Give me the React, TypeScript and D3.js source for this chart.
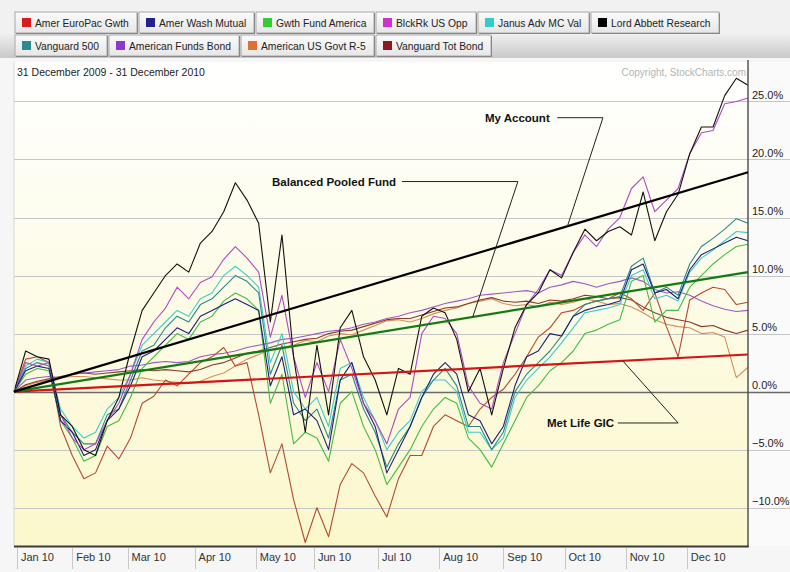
import { useEffect, useRef } from 'react';
import * as d3 from 'd3';

// sessions since 31 Dec 2009, one reading every 4 sessions
const sessions = d3.range(0, 253, 4);

const monthLabels = ['Jan 10', 'Feb 10', 'Mar 10', 'Apr 10', 'May 10', 'Jun 10', 'Jul 10', 'Aug 10', 'Sep 10', 'Oct 10', 'Nov 10', 'Dec 10'];
const monthStarts = [1, 20, 39, 62, 83, 103, 125, 146, 168, 189, 210, 231];
const yTicks = [-10, -5, 0, 5, 10, 15, 20, 25];

// % change
const euroPac = [0, 2.8, 3.0, 2.5, -3.0, -5.5, -7.5, -7.0, -4.7, -5.8, -4.0, -1.0, -0.4, 1.0, 0.5, 1.5, 2.5, 3.0, 3.8, 2.2, 2.5, -2.0, -7.0, -4.5, -9.3, -13.0, -10.0, -12.5, -8.0, -6.2, -7.0, -9.0, -10.8, -7.5, -5.5, -5.5, -3.0, -2.0, -2.5, -3.0, -1.5, -0.5, 0.2, 1.5, 3.0, 4.7, 5.5, 6.8, 7.0, 7.5, 7.8, 8.0, 8.5, 8.0, 7.0, 8.5, 5.6, 3.0, 7.9, 8.5, 9.0, 8.8, 7.5, 7.7];
const amerWash = [0, 1.8, 2.2, 2.0, -2.5, -3.5, -5.5, -5.0, -2.5, -1.5, 0.5, 3.0, 3.5, 4.5, 5.5, 5.0, 6.5, 7.0, 7.5, 8.0, 7.5, 7.0, 0.5, 3.0, -2.0, -1.5, -2.5, -5.0, 1.0, 2.5, -1.0, -3.0, -7.0, -5.0, -3.0, -0.5, 1.5, 2.5, 1.5, -2.0, -2.5, -4.5, -3.0, 0.5, 3.0, 3.5, 5.0, 4.8, 6.5, 7.0, 7.3, 7.5, 7.8, 10.5, 11.0, 8.5, 8.8, 8.0, 10.5, 11.8, 12.3, 12.8, 13.3, 13.0];
const gwthFund = [0, 1.5, 2.0, 1.8, -2.5, -4.0, -6.0, -5.5, -3.0, -2.5, -0.5, 2.0, 3.0, 4.0, 5.0, 4.5, 6.0, 6.5, 7.8, 8.5, 8.0, 7.0, -1.0, 1.5, -4.5, -3.5, -4.0, -6.0, -1.0, 0.0, -3.0, -5.0, -8.0, -6.5, -5.0, -3.0, -1.5, -0.5, -1.0, -4.0, -5.0, -6.5, -4.5, -2.5, -0.5, 0.5, 1.8, 2.5, 3.5, 5.0, 5.3, 5.8, 6.2, 9.5, 10.0, 6.0, 7.0, 7.0, 9.0, 10.0, 11.0, 11.8, 12.5, 12.7];
const blckRk = [0, 2.5, 2.2, 2.5, -2.0, -4.0, -5.0, -4.5, -2.5, -1.0, 1.5, 4.5, 6.0, 7.2, 9.0, 8.0, 9.4, 9.9, 11.4, 12.5, 11.5, 10.3, 4.7, 8.3, 3.0, -0.5, 2.5, 0.0, 4.5, 2.0, -1.0, -2.5, -4.5, -1.5, -0.5, 5.0, 6.5, 6.3, 5.0, 0.5, -1.0, -1.5, 2.5, 5.0, 7.5, 8.8, 10.5, 10.0, 12.0, 13.5, 12.5, 14.0, 15.0, 17.5, 18.5, 15.5, 16.5, 17.5, 20.5, 22.3, 22.5, 24.8, 25.0, 25.3];
const janus = [0, 2.2, 2.8, 2.5, -1.5, -3.0, -4.0, -3.5, -1.5, -0.5, 1.5, 4.0, 5.0, 6.0, 7.0, 6.5, 8.0, 8.5, 10.0, 10.8, 10.0, 9.0, 2.5, 5.0, 0.0, -1.5, -0.5, -3.0, 2.0, 2.5, -0.5, -2.5, -5.0, -3.5, -2.5, 0.0, 1.0, 1.0, 0.0, -3.5, -3.5, -5.0, -4.0, -0.5, 1.0, 2.0, 3.0, 4.2, 5.5, 6.8, 7.0, 7.2, 7.5, 10.0, 10.5, 8.0, 8.3, 7.8, 10.3, 11.5, 12.2, 13.0, 13.8, 13.7];
const lordAbbett = [0, 3.5, 3.0, 2.8, -2.0, -3.0, -5.0, -5.5, -2.5, -0.5, 3.5, 7.0, 8.5, 10.0, 11.0, 10.3, 12.8, 13.8, 15.5, 18.0, 16.5, 14.5, 6.0, 13.5, 3.0, -3.5, 4.0, -2.0, 5.5, 7.0, 3.0, 1.0, -2.0, 2.0, 1.5, 6.5, 7.2, 6.8, 4.5, 0.0, 2.0, -2.0, 2.0, 5.5, 7.5, 8.5, 10.5, 9.8, 12.0, 14.0, 13.0, 13.8, 14.2, 13.5, 17.2, 13.0, 15.5, 17.0, 20.5, 22.8, 22.8, 25.5, 27.0, 26.4];
const vanguard500 = [0, 2.0, 2.5, 2.2, -2.0, -3.5, -4.5, -4.5, -2.0, -1.5, 1.0, 3.5, 4.0, 5.5, 6.5, 6.0, 7.5, 8.0, 9.0, 10.0, 9.5, 8.5, 1.5, 4.0, -1.0, -2.5, -1.5, -4.0, 1.0, 1.5, -1.5, -3.5, -6.5, -4.5, -3.0, -0.5, 1.0, 2.0, 0.5, -3.0, -3.0, -5.0, -3.5, 0.0, 1.5, 2.5, 3.5, 4.8, 6.5, 7.5, 7.8, 8.0, 8.2, 10.8, 11.5, 8.5, 9.0, 8.3, 11.0, 12.5, 13.2, 14.0, 14.9, 14.5];
const amerFundsBond = [0, 1.0, 1.2, 1.3, 1.2, 1.5, 1.6, 1.7, 1.8, 1.9, 2.2, 2.3, 2.5, 2.6, 2.5, 2.6, 3.0, 3.2, 3.3, 3.5, 3.8, 4.0, 4.2, 4.5, 4.6, 4.8, 5.0, 5.2, 5.3, 5.5, 5.8, 6.0, 6.3, 6.5, 6.8, 7.0, 7.3, 7.6, 7.8, 8.0, 8.3, 8.4, 8.5, 8.6, 8.7, 8.5, 9.0, 9.2, 9.5, 9.3, 9.0, 9.3, 9.5, 9.8, 9.5, 8.8, 8.5, 8.6, 8.3, 7.8, 7.4, 7.1, 6.9, 7.0];
const amerUsGovt = [0, 0.5, 0.8, 1.0, 1.2, 1.3, 1.3, 1.2, 1.1, 1.0, 1.0, 1.2, 1.0, 0.9, 0.8, 0.7, 0.9, 1.3, 1.6, 2.2, 2.8, 3.2, 3.6, 3.8, 4.0, 4.4, 4.3, 4.8, 5.0, 4.9, 5.3, 5.7, 6.1, 6.2, 6.0, 6.3, 6.7, 7.0, 7.2, 7.6, 7.8, 8.0, 7.6, 7.4, 7.5, 7.3, 7.7, 7.5, 7.7, 8.0, 7.8, 7.5, 7.6, 7.3, 6.8, 6.2, 5.8, 5.6, 5.5, 5.0, 5.1, 4.7, 1.2, 2.1];
const vanguardTotBond = [0, 0.6, 0.9, 1.1, 1.3, 1.5, 1.6, 1.5, 1.6, 1.7, 1.8, 1.9, 1.8, 1.9, 1.8, 1.7, 1.9, 2.3, 2.5, 2.9, 3.3, 3.5, 3.8, 4.1, 4.3, 4.5, 4.6, 5.0, 5.2, 5.3, 5.6, 5.9, 6.2, 6.3, 6.3, 6.6, 6.9, 7.2, 7.3, 7.6, 7.9, 8.1, 7.8, 7.7, 7.8, 7.6, 7.9, 7.8, 8.0, 8.3, 8.2, 8.0, 8.1, 7.9, 7.3, 6.8, 6.4, 6.2, 6.0, 5.6, 5.7, 5.3, 5.0, 5.3];

// hand-drawn straight lines (start and end of year)
const lineDays = [0, 252];
const myAccount = [0, 18.9];
const balancedPooledFund = [0, 10.3];
const metLifeGic = [0, 3.2];

type Series = { name: string; swatch: string; stroke: string; values: number[] };

const series: Series[] = [
  { name: 'Amer EuroPac Gwth', swatch: '#d81c1c', stroke: '#b44a30', values: euroPac },
  { name: 'Amer Wash Mutual', swatch: '#22228c', stroke: '#1e1e78', values: amerWash },
  { name: 'Gwth Fund America', swatch: '#33cc33', stroke: '#44bb44', values: gwthFund },
  { name: 'BlckRk US Opp', swatch: '#cc33cc', stroke: '#b048c4', values: blckRk },
  { name: 'Janus Adv MC Val', swatch: '#33cccc', stroke: '#3ccccc', values: janus },
  { name: 'Lord Abbett Research', swatch: '#000000', stroke: '#111111', values: lordAbbett },
  { name: 'Vanguard 500', swatch: '#2a8c8c', stroke: '#2a8888', values: vanguard500 },
  { name: 'American Funds Bond', swatch: '#8a3acc', stroke: '#9a5ac8', values: amerFundsBond },
  { name: 'American US Govt R-5', swatch: '#e07033', stroke: '#d48e58', values: amerUsGovt },
  { name: 'Vanguard Tot Bond', swatch: '#8b1a1a', stroke: '#8a3a2a', values: vanguardTotBond },
];

const drawOrder = ['American US Govt R-5', 'Vanguard Tot Bond', 'American Funds Bond', 'Amer EuroPac Gwth', 'Gwth Fund America', 'Janus Adv MC Val', 'Vanguard 500', 'Amer Wash Mutual', 'BlckRk US Opp', 'Lord Abbett Research'];

const FONT = '"Liberation Sans", Arial, sans-serif';

export default function App() {
  const ref = useRef<SVGSVGElement>(null);

  useEffect(() => {
    if (!ref.current) return;
    const W = 790, H = 572;
    const plot = { left: 14, right: 748, top: 62, bottom: 546 };

    const x = d3.scaleLinear().domain([0, 252]).range([plot.left, plot.right]);
    const y = d3.scaleLinear().domain([-13.3, 28.4]).range([plot.bottom, plot.top]);

    const svg = d3.select(ref.current);
    svg.selectAll('*').remove();
    svg.attr('width', W).attr('height', H).attr('viewBox', `0 0 ${W} ${H}`);

    const defs = svg.append('defs');
    const bg = defs.append('linearGradient').attr('id', 'plotbg').attr('x1', 0).attr('y1', 0).attr('x2', 0).attr('y2', 1);
    bg.append('stop').attr('offset', '0%').attr('stop-color', '#ffffff');
    bg.append('stop').attr('offset', '100%').attr('stop-color', '#fbf8cc');
    const band = defs.append('linearGradient').attr('id', 'band').attr('x1', 0).attr('y1', 0).attr('x2', 0).attr('y2', 1);
    band.append('stop').attr('offset', '0%').attr('stop-color', '#efefef');
    band.append('stop').attr('offset', '100%').attr('stop-color', '#c9c9c9');
    const btn = defs.append('linearGradient').attr('id', 'btn').attr('x1', 0).attr('y1', 0).attr('x2', 0).attr('y2', 1);
    btn.append('stop').attr('offset', '0%').attr('stop-color', '#fbfbfb');
    btn.append('stop').attr('offset', '100%').attr('stop-color', '#e6e6e6');

    // page + legend area
    svg.append('rect').attr('width', W).attr('height', H).attr('fill', '#f6f6f6');
    svg.append('rect').attr('width', W).attr('height', 34).attr('fill', '#f1f1f1');
    svg.append('rect').attr('y', 34).attr('width', W).attr('height', 24).attr('fill', 'url(#band)');
    svg.append('rect').attr('x', plot.left).attr('y', plot.top).attr('width', plot.right - plot.left).attr('height', plot.bottom - plot.top).attr('fill', 'url(#plotbg)');
    svg.append('rect').attr('x', plot.right).attr('y', plot.top).attr('width', W - plot.right).attr('height', plot.bottom - plot.top).attr('fill', '#fafafa');

    // legend buttons
    const rows = [series.slice(0, 6), series.slice(6)];
    rows.forEach((row, ri) => {
      let bx = 15;
      const by = 12 + ri * 23;
      row.forEach(s => {
        const g = svg.append('g');
        const rect = g.append('rect').attr('x', bx).attr('y', by).attr('height', 21).attr('fill', 'url(#btn)')
          .attr('stroke', '#a8a8a8').attr('stroke-width', 1);
        g.append('rect').attr('x', bx + 7).attr('y', by + 6).attr('width', 9).attr('height', 9).attr('fill', s.swatch);
        const t = g.append('text').attr('x', bx + 20).attr('y', by + 14.5).attr('font-family', FONT).attr('font-size', 10.3)
          .attr('fill', '#222').text(s.name);
        const tw = (t.node() as SVGTextElement).getComputedTextLength();
        const w = Math.round(20 + tw + 8);
        rect.attr('width', w);
        g.append('line').attr('x1', bx + 1).attr('x2', bx + w).attr('y1', by + 21.5).attr('y2', by + 21.5).attr('stroke', '#888');
        g.append('line').attr('x1', bx + w + 0.5).attr('x2', bx + w + 0.5).attr('y1', by + 1).attr('y2', by + 22).attr('stroke', '#888');
        bx += w + 2;
      });
    });

    // grid + y labels
    svg.append('g').selectAll('line').data(yTicks).enter().append('line')
      .attr('x1', plot.left).attr('x2', W)
      .attr('y1', d => Math.round(y(d)) + 0.5).attr('y2', d => Math.round(y(d)) + 0.5)
      .attr('stroke', d => d === 0 ? '#6a6a6a' : '#c6c6c6')
      .attr('stroke-width', d => d === 0 ? 1.6 : 1.2);
    svg.append('g').selectAll('text').data(yTicks).enter().append('text')
      .attr('x', 752).attr('y', d => y(d) - 2.5)
      .attr('font-family', FONT).attr('font-size', 11).attr('fill', '#222')
      .text(d => d3.format('.1f')(d) + '%');

    // header texts
    svg.append('text').attr('x', 17).attr('y', 76).attr('font-family', FONT).attr('font-size', 10.5).attr('fill', '#222')
      .text('31 December 2009 - 31 December 2010');
    svg.append('text').attr('x', 746).attr('y', 76).attr('text-anchor', 'end').attr('font-family', FONT).attr('font-size', 10)
      .attr('fill', '#b4b4b4').text('Copyright, StockCharts.com');

    // fund lines
    const line = d3.line<number>().x((_, i) => x(sessions[i])).y(d => y(d));
    const lines = svg.append('g').attr('fill', 'none');
    drawOrder.forEach(name => {
      const s = series.find(d => d.name === name)!;
      lines.append('path').attr('d', line(s.values)!).attr('stroke', s.stroke).attr('stroke-width', 1.1)
        .attr('stroke-linejoin', 'round');
    });

    // axes frame
    svg.append('line').attr('x1', plot.left).attr('x2', plot.left).attr('y1', plot.top).attr('y2', plot.bottom)
      .attr('stroke', '#d6d6d6');
    svg.append('line').attr('x1', plot.right).attr('x2', plot.right).attr('y1', plot.top - 2).attr('y2', plot.bottom + 1)
      .attr('stroke', '#555').attr('stroke-width', 1.5);
    svg.append('line').attr('x1', plot.left).attr('x2', plot.right + 0.75).attr('y1', plot.bottom + 0.5).attr('y2', plot.bottom + 0.5)
      .attr('stroke', '#3a3a3a').attr('stroke-width', 2);

    // x axis separators + labels
    const xa = svg.append('g');
    xa.selectAll('line').data(monthStarts).enter().append('line')
      .attr('x1', d => Math.round(x(d)) + 0.5).attr('x2', d => Math.round(x(d)) + 0.5)
      .attr('y1', plot.bottom + 2).attr('y2', plot.bottom + 23).attr('stroke', '#c8c8c8');
    xa.selectAll('text').data(monthStarts).enter().append('text')
      .attr('x', d => x(d) + 4).attr('y', plot.bottom + 15)
      .attr('font-family', FONT).attr('font-size', 11).attr('fill', '#333')
      .text((_, i) => monthLabels[i]);

    // hand-drawn straight lines
    const straight = d3.line<number>().x((_, i) => x(lineDays[i])).y(d => y(d));
    const benchmarks = [
      { values: metLifeGic, color: '#d41414' },
      { values: balancedPooledFund, color: '#157a15' },
      { values: myAccount, color: '#000000' },
    ];
    benchmarks.forEach(b => {
      svg.append('path').attr('d', straight(b.values)!).attr('fill', 'none').attr('stroke', b.color).attr('stroke-width', 2.2);
    });

    // callouts: text, horizontal leader, then a slanted leg down to the line
    const at = (vals: number[], day: number) => vals[0] + (vals[1] - vals[0]) * (day - lineDays[0]) / (lineDays[1] - lineDays[0]);
    const callouts = [
      { text: 'My Account', tx: 161.7, tv: 23.6, from: 186.5, elbow: 202.2, endDay: 190, target: myAccount },
      { text: 'Balanced Pooled Fund', tx: 88.6, tv: 18.1, from: 133.2, elbow: 173, endDay: 157.5, target: balancedPooledFund },
      { text: 'Met Life GIC', tx: 183, tv: -2.7, from: 207.3, elbow: 228, endDay: 209, target: metLifeGic },
    ];
    callouts.forEach(c => {
      svg.append('text').attr('x', x(c.tx)).attr('y', y(c.tv) + 4.2).attr('font-family', FONT).attr('font-size', 11.5)
        .attr('font-weight', 'bold').attr('fill', '#111').text(c.text);
      const pts: [number, number][] = [[x(c.from), y(c.tv)], [x(c.elbow), y(c.tv)], [x(c.endDay), y(at(c.target, c.endDay))]];
      svg.append('path').attr('d', d3.line()(pts)!).attr('fill', 'none').attr('stroke', '#222').attr('stroke-width', 1);
    });
  }, []);

  return <svg ref={ref} style={{ position: 'absolute', left: 0, top: 0, display: 'block' }} />;
}
